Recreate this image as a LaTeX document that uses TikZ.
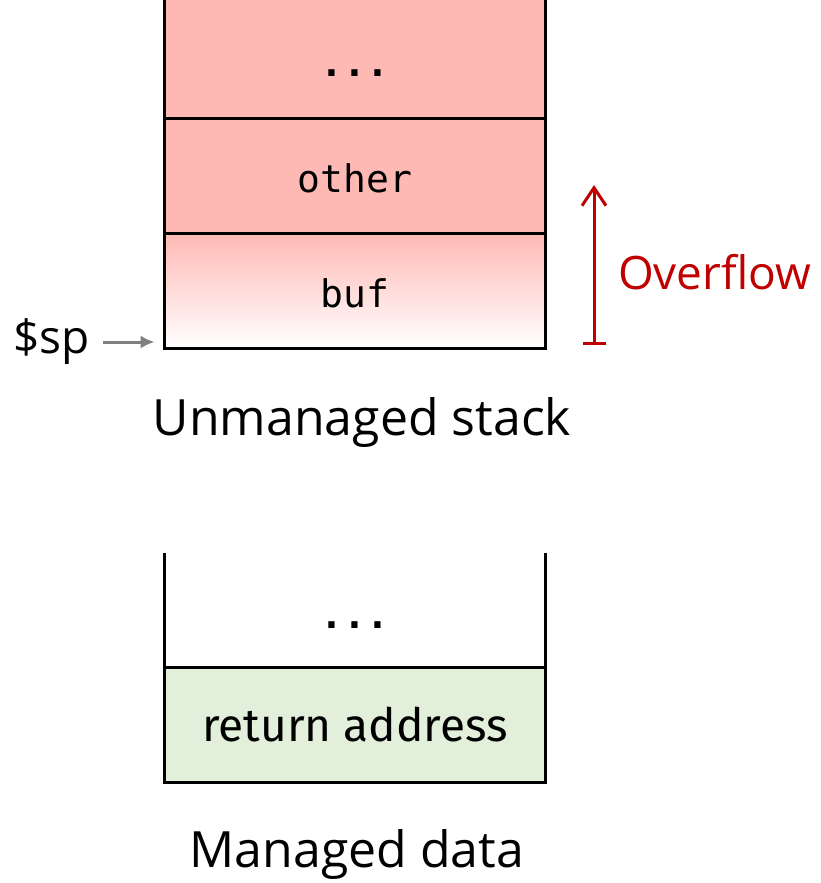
\documentclass[tikz,border=0pt]{standalone}
\usepackage{fontspec}
\setmainfont{Open Sans}
\newfontfamily\cellmono{DejaVu Sans Mono}
\newfontfamily\cellsans{Fira Sans}
\usepackage{tikz}
\usetikzlibrary{arrows.meta,positioning}
\definecolor{stackred}{RGB}{255,185,181}
\definecolor{datagreen}{RGB}{226,239,218}
\definecolor{overred}{RGB}{192,0,0}

\begin{document}
\begin{tikzpicture}[x=0.5pt, y=0.5pt,
	cell/.style={minimum width=190pt, minimum height=57pt, inner sep=0pt, text height=17pt, text depth=0pt, font=\cellmono\fontsize{19}{19}\selectfont},
	wall/.style={line width=1.5pt, line cap=rect},
	caption/.style={font=\fontsize{25}{25}\selectfont},
	ptr/.style={-{Latex[length=7pt,width=6.5pt]}, gray, line width=1.5pt}]
\useasboundingbox (0,0) rectangle (820,-883);
% unmanaged stack
\node[cell, minimum height=59pt, fill=stackred] (top) at (355,-59) {\bfseries...};
\node[cell, fill=stackred, below=0pt of top] (other) {other};
\node[cell, top color=stackred, bottom color=white, below=0pt of other] (buf) {buf};
\draw[wall] (top.north west) -- (buf.south west) -- (buf.south east) -- (top.north east)
	(top.south west) -- (top.south east)
	(other.south west) -- (other.south east);
\node[caption] (ustack) at (362,-423) {Unmanaged stack};
\node[font=\fontsize{23}{23}\selectfont, anchor=east, inner sep=1pt] (sp) at (92,-342) {\$sp};
\draw[ptr, shorten >=5pt] (sp.east) ++(11,0) -- (sp.east -| buf.west);
\coordinate (ovlo) at (594,-345);
\coordinate (ovhi) at (594,-185);
\draw[overred, line width=1.5pt, {Bar[width=11.5pt]}-{Straight Barb[length=9pt,width=12pt]}] (ovlo) -- (ovhi);
\node[font=\fontsize{23}{23}\selectfont, text=overred, anchor=west] (ovtext) at (611,-272) {Overflow};
% managed data
\node[cell, minimum height=56pt] (mdots) at (355,-611) {\bfseries...};
\node[cell, fill=datagreen, below=0pt of mdots, font=\cellsans\fontsize{23}{23}\selectfont] (ret) {return address};
\draw[wall] (mdots.north west) -- (ret.south west) -- (ret.south east) -- (mdots.north east)
	(mdots.south west) -- (mdots.south east);
\node[caption] (mdata) at (357,-855) {Managed data};
\end{tikzpicture}
\end{document}
